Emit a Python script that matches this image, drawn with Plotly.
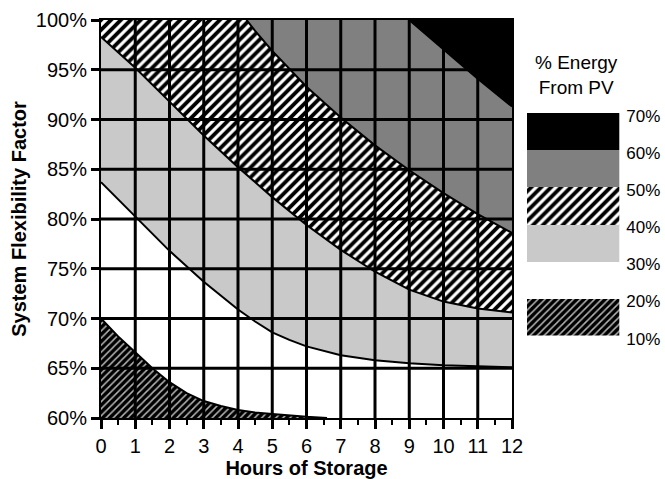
import plotly.graph_objects as go

# ---------------- data ----------------
hours_ticks = list(range(0, 13))
flex_ticks = [60, 65, 70, 75, 80, 85, 90, 95, 100]

# contour boundaries of "% Energy From PV" (x = hours of storage, y = flexibility %)
c20_x = [0, 0.5, 1, 1.5, 2, 2.5, 3, 3.5, 4, 4.5, 5, 5.5, 6, 6.6]
c20_y = [70, 68.2, 66.6, 65.0, 63.6, 62.5, 61.7, 61.2, 60.8, 60.55, 60.4, 60.25, 60.12, 60]
c30_x = [0, 1, 2, 3, 4, 4.5, 5, 5.5, 6, 7, 8, 9, 10, 11, 12]
c30_y = [83.7, 80.3, 76.8, 73.7, 70.9, 69.7, 68.6, 67.85, 67.2, 66.3, 65.8, 65.5, 65.3, 65.2, 65.1]
c40_x = [0, 1, 2, 3, 4, 5, 6, 7, 8, 9, 10, 11, 12]
c40_y = [98.3, 95.2, 91.8, 88.4, 85.2, 82.2, 79.4, 76.9, 74.7, 72.9, 71.7, 71.0, 70.6]
c50_x = [4.25, 4.5, 5, 6, 7, 8, 9, 10, 11, 12]
c50_y = [100, 98.9, 96.9, 93.3, 90.2, 87.4, 84.9, 82.6, 80.5, 78.6]
c60_x = [9, 10, 11, 12]
c60_y = [100, 97.0, 94.1, 91.3]

legend_lo = [10, 30, 40, 50, 60]
legend_hi = [20, 40, 50, 60, 70]
legend_ticks = [10, 20, 30, 40, 50, 60, 70]

# ---------------- styles ----------------
FONT = "Liberation Sans, Arial, sans-serif"
PAT_DARK = dict(shape="/", fgcolor="#b4b4b4", bgcolor="#000000", size=5, solidity=0.3, fgopacity=1)
PAT_HATCH = dict(shape="/", fgcolor="#000000", bgcolor="#ffffff", size=7, solidity=0.55, fgopacity=1)
LIGHT = "#c9c9c9"
GRAY = "#808080"

XMIN, XMAX = hours_ticks[0], hours_ticks[-1]
YMIN, YMAX = flex_ticks[0], flex_ticks[-1]

fig = go.Figure()


def region(xs, ys, color, pattern):
    fig.add_trace(go.Scatter(
        x=xs, y=ys, mode="lines", fill="toself", fillcolor=color,
        fillpattern=pattern, line=dict(width=0), hoverinfo="skip",
        showlegend=False, xaxis="x", yaxis="y"))


# 30-40 % (everything above the 30 % line, later overpainted)
region(c30_x + [XMAX, XMIN], c30_y + [YMAX, YMAX], LIGHT, None)
# 40-50 %
region(c40_x + [XMAX, XMIN], c40_y + [YMAX, YMAX], "#ffffff", PAT_HATCH)
# 50-60 %
region(c50_x + [XMAX], c50_y + [YMAX], GRAY, None)
# 60-70 %
region(c60_x + [XMAX], c60_y + [YMAX], "#000000", None)
# 10-20 %
region(c20_x + [XMIN], c20_y + [YMIN], "#000000", PAT_DARK)

# boundary lines
for cx, cy in [(c20_x, c20_y), (c30_x, c30_y), (c40_x, c40_y), (c50_x, c50_y), (c60_x, c60_y)]:
    fig.add_trace(go.Scatter(x=cx, y=cy, mode="lines", line=dict(color="black", width=2),
                             hoverinfo="skip", showlegend=False))

# grid lines drawn above the fills
gx, gy = [], []
for v in hours_ticks[1:-1]:
    gx += [v, v, None]
    gy += [YMIN, YMAX, None]
for v in flex_ticks[1:-1]:
    gx += [XMIN, XMAX, None]
    gy += [v, v, None]
fig.add_trace(go.Scatter(x=gx, y=gy, mode="lines", line=dict(color="black", width=3),
                         hoverinfo="skip", showlegend=False))

# legend swatches as bars in a second subplot
leg_pats = [PAT_DARK, None, PAT_HATCH, None, None]
leg_cols = ["#000000", LIGHT, "#ffffff", GRAY, "#000000"]
for lo, hi, pat, col in zip(legend_lo, legend_hi, leg_pats, leg_cols):
    fig.add_trace(go.Bar(x=[0], y=[hi - lo], base=[lo], width=1,
                         marker=dict(color=col, line=dict(width=0), pattern=pat),
                         xaxis="x2", yaxis="y2", hoverinfo="skip", showlegend=False))

W, H = 665, 479
L, R, T, B = 101, 5, 20, 60.5
pw = W - L - R
ph = H - T - B
main_right = (512 - L) / pw
leg_x0 = (526.7 - L) / pw
leg_x1 = (619.3 - L) / pw
leg_y0 = (H - B - 336) / ph
leg_y1 = (H - B - 112.7) / ph

fig.update_layout(
    width=W, height=H,
    margin=dict(l=L, r=R, t=T, b=B, autoexpand=False),
    paper_bgcolor="white", plot_bgcolor="white",
    font=dict(family=FONT, color="black"),
    barmode="overlay", bargap=0,
    xaxis=dict(domain=[0, main_right], range=[XMIN, XMAX], tickmode="array", tickvals=hours_ticks,
               ticktext=[str(v) for v in hours_ticks], automargin=False,
               ticks="outside", ticklen=9, tickwidth=3, tickcolor="black",
               minor=dict(dtick=0.5, ticks="outside", ticklen=5, tickwidth=2, tickcolor="black", showgrid=False),
               showgrid=False, zeroline=False, showline=True, linewidth=2, linecolor="black", mirror=True,
               tickfont=dict(family=FONT, size=20),
               title=dict(text="Hours of Storage", font=dict(family=FONT, size=20, weight="bold"), standoff=16)),
    yaxis=dict(range=[YMIN, YMAX], tickmode="array", tickvals=flex_ticks,
               ticktext=[f"{v}%" for v in flex_ticks], automargin=False,
               ticks="outside", ticklen=8, tickwidth=3, tickcolor="black",
               showgrid=False, zeroline=False, showline=True, linewidth=2, linecolor="black", mirror=True,
               tickfont=dict(family=FONT, size=20),
               title=dict(text="System Flexibility Factor", font=dict(family=FONT, size=20, weight="bold"), standoff=4)),
    xaxis2=dict(domain=[leg_x0, leg_x1], range=[-0.5, 0.5], anchor="y2", automargin=False,
                showgrid=False, zeroline=False, showticklabels=False, showline=False, ticks=""),
    yaxis2=dict(domain=[leg_y0, leg_y1], range=[legend_ticks[0], legend_ticks[-1]], anchor="x2",
                side="right", tickmode="array", tickvals=legend_ticks, automargin=False,
                ticktext=[f"{v}%" for v in legend_ticks], ticks="",
                showgrid=False, zeroline=False, showline=False, tickfont=dict(family=FONT, size=17),
                ticklabelstandoff=6, ticklabelshift=3),
    annotations=[dict(text="% Energy<br>From PV", xref="paper", yref="paper",
                      x=(576 - L) / pw, y=(H - B - 75) / ph, showarrow=False,
                      font=dict(family=FONT, size=19), xanchor="center", yanchor="middle")],
)

fig.write_html("out.html")
